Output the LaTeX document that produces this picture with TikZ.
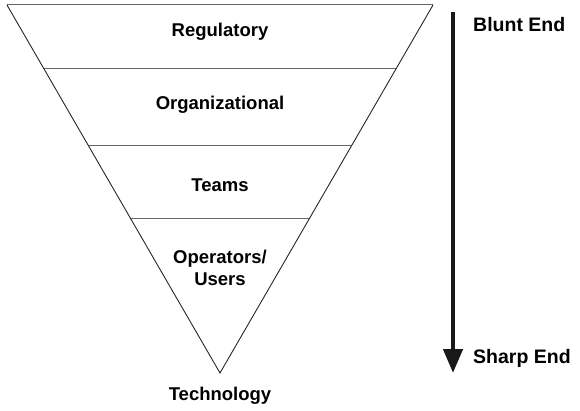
\documentclass[tikz,border=0pt]{standalone}
\usepackage{fontspec}
\setmainfont{Liberation Sans}
\usetikzlibrary{arrows.meta}
\tikzset{
  lbl/.style={font=\bfseries\fontsize{18.5}{21}\selectfont, inner sep=0pt, anchor=base},
  sidelbl/.style={font=\bfseries\fontsize{19.5}{22}\selectfont, inner sep=0pt, anchor=base west},
  edge/.style={draw=black!85, line width=0.9pt},
  divider/.style={draw=black!60, line width=1pt},
  bigarrow/.style={draw=black!90, line width=4.5pt, -{Triangle[width=19pt,length=24pt]}}
}
\begin{document}
\begin{tikzpicture}[x=1pt,y=-1pt]
\useasboundingbox (0,0) rectangle (580,411);
% triangle corners
\coordinate (TL) at (7,5);
\coordinate (TR) at (433,5);
\coordinate (AP) at (220,373);
% divider ends
\coordinate (L1) at (44,69);  \coordinate (R1) at (396,69);
\coordinate (L2) at (88.6,146); \coordinate (R2) at (351.4,146);
\coordinate (L3) at (131,219); \coordinate (R3) at (309,219);
\draw[divider] (TL) -- (TR);
\draw[divider] (L1) -- (R1);
\draw[divider] (L2) -- (R2);
\draw[divider] (L3) -- (R3);
\draw[edge] (TL) -- (AP) -- (TR);
% labels
\node[lbl] (reg) at (220,37) {Regulatory};
\node[lbl] (org) at (220,110) {Organizational};
\node[lbl] (teams) at (220,192) {Teams};
\node[lbl] (op) at (220,264) {Operators/};
\node[lbl] (us) at (220,285) {Users};
\node[lbl] (tech) at (220,400) {Technology};
% arrow
\coordinate (A1) at (453,12);
\coordinate (A2) at (453,373);
\draw[bigarrow] (A1) -- (A2);
\node[sidelbl] (blunt) at (473,32) {Blunt End};
\node[sidelbl] (sharp) at (473,363) {Sharp End};
\end{tikzpicture}
\end{document}
